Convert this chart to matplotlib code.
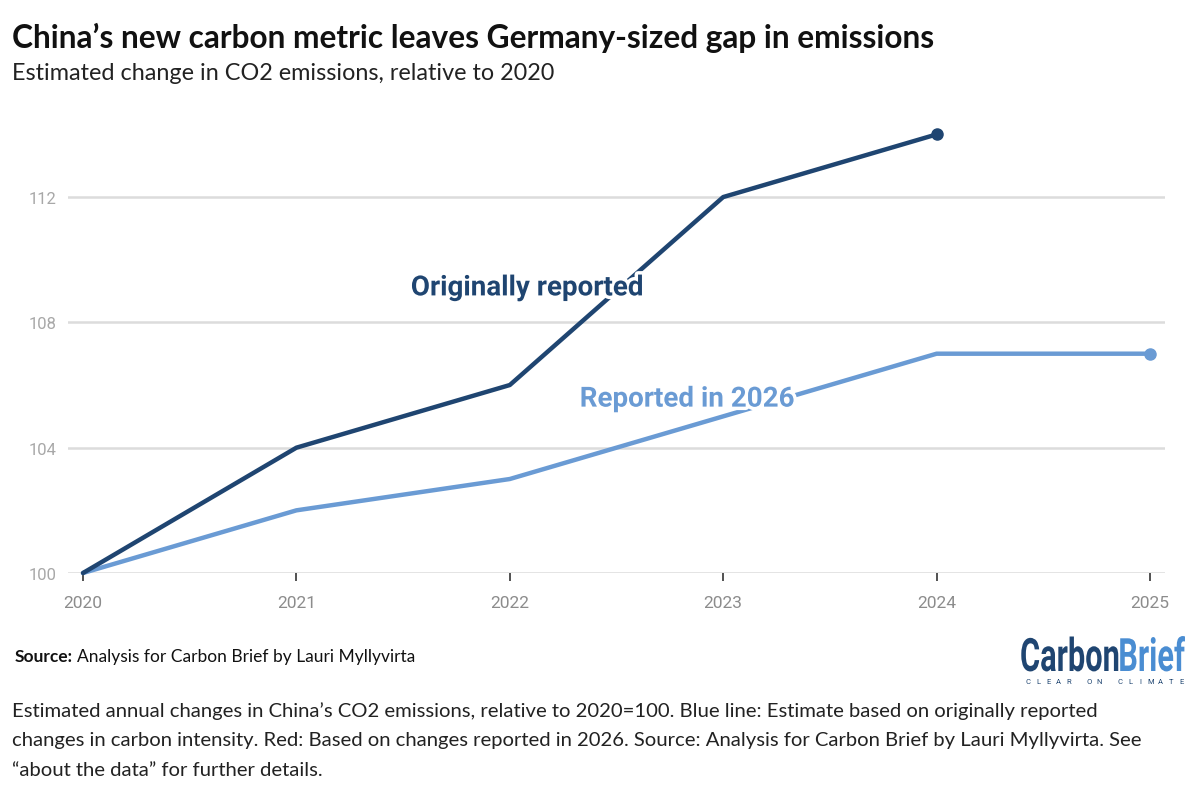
import matplotlib
matplotlib.use("Agg")
import matplotlib.pyplot as plt
import matplotlib.patheffects as pe
from matplotlib.textpath import TextPath
from matplotlib.font_manager import FontProperties
from matplotlib.patches import PathPatch
from matplotlib.transforms import Affine2D

years_orig = [2020, 2021, 2022, 2023, 2024]
orig = [100, 104, 106, 112, 114]
years_new = [2020, 2021, 2022, 2023, 2024, 2025]
new = [100, 102, 103, 105, 107, 107]
yticks = [100, 104, 108, 112]

navy = "#1f4571"
light = "#6a9bd4"
gray_txt = "#a8a8a8"

W, H = 1200, 812
fig = plt.figure(figsize=(W / 100, H / 100), dpi=100)
fig.patch.set_facecolor("white")

ax = fig.add_axes([68 / W, 1 - 574 / H, (1165 - 68) / W, (574 - 126) / H])
ax.set_xlim(2020 - 15 / 213.4, 2025 + 15 / 213.4)
ax.set_ylim(100, 114.3)
for s in ax.spines.values():
    s.set_visible(False)
for y in yticks:
    ax.axhline(y, color="#dcdcdc", lw=1.8, zorder=0)
ax.set_yticks(yticks)
ax.set_yticklabels([str(v) for v in yticks], fontsize=12, color=gray_txt, family="Roboto")
ax.tick_params(axis="y", length=0, pad=8)
ax.set_xticks(years_new)
ax.set_xticklabels([str(v) for v in years_new], fontsize=12.5, color="#8c8c8c", family="Roboto")
ax.tick_params(axis="x", length=6, width=1.2, color="#333333", pad=10, direction="out")

ax.plot(years_new, new, color=light, lw=3.2, zorder=3, solid_capstyle="round", clip_on=False)
ax.plot(years_new[-1], new[-1], "o", color=light, ms=8, zorder=4, clip_on=False)
ax.plot(years_orig, orig, color=navy, lw=3.2, zorder=3, solid_capstyle="round", clip_on=False)
ax.plot(years_orig[-1], orig[-1], "o", color=navy, ms=8, zorder=4, clip_on=False)

halo = [pe.withStroke(linewidth=5, foreground="white")]
ax.text(2022.08, 109.1, "Originally reported", color=navy, fontsize=20, fontweight="bold",
        family="Roboto", ha="center", va="center", zorder=5, path_effects=halo)
ax.text(2022.83, 105.55, "Reported in 2026", color=light, fontsize=20, fontweight="bold",
        family="Roboto", ha="center", va="center", zorder=5, path_effects=halo)

fig.text(12 / W, 1 - 38 / H, "China\u2019s new carbon metric leaves Germany-sized gap in emissions",
         fontsize=22.8, fontweight="bold", family="Lato", color="#111111", va="center")
fig.text(12 / W, 1 - 74 / H, "Estimated change in CO2 emissions, relative to 2020",
         fontsize=16.8, family="Lato", color="#222222", va="center")

src = fig.text(15 / W, 1 - 657 / H, "Source:", fontsize=12.5, fontweight="bold",
               family="Lato", color="#111111", va="center")
fig.canvas.draw()
bb = src.get_window_extent()
fig.text(bb.x1 / W + 4 / W, 1 - 657 / H, "Analysis for Carbon Brief by Lauri Myllyvirta",
         fontsize=12.5, family="Lato", color="#111111", va="center")

caption = ("Estimated annual changes in China\u2019s CO2 emissions, relative to 2020=100. Blue line: Estimate based on originally reported\n"
           "changes in carbon intensity. Red: Based on changes reported in 2026. Source: Analysis for Carbon Brief by Lauri Myllyvirta. See\n"
           "\u201cabout the data\u201d for further details.")
fig.text(12 / W, 1 - 702 / H, caption, fontsize=14.6, family="Lato", color="#222222",
         va="top", linespacing=1.9)

# logo drawn as squeezed text paths in pixel coordinates
fp = FontProperties(family="Roboto", weight="bold")
logo_ax = fig.add_axes([0, 0, 1, 1], facecolor="none")
logo_ax.set_xlim(0, W)
logo_ax.set_ylim(H, 0)
logo_ax.axis("off")
p1 = TextPath((0, 0), "Carbon", size=46, prop=fp)
p2 = TextPath((0, 0), "Brief", size=46, prop=fp)
w1 = p1.get_extents().x1
w2 = p2.get_extents().x1
sx = 165 / (w1 + w2)
t1 = Affine2D().scale(sx, -1.0).translate(1020, 672)
t2 = Affine2D().scale(sx, -1.0).translate(1020 + w1 * sx, 672)
logo_ax.add_patch(PathPatch(t1.transform_path(p1), color=navy, lw=0))
logo_ax.add_patch(PathPatch(t2.transform_path(p2), color="#4a8dd2", lw=0))
tag = "CLEAR ON CLIMATE"
step = (1181 - 1028) / (len(tag) - 1)
for i, ch in enumerate(tag):
    logo_ax.text(1028 + i * step, 682, ch, fontsize=5.5, color=navy, family="Roboto",
                 ha="center", va="center")

fig.savefig("out.png", dpi=100, facecolor="white")
